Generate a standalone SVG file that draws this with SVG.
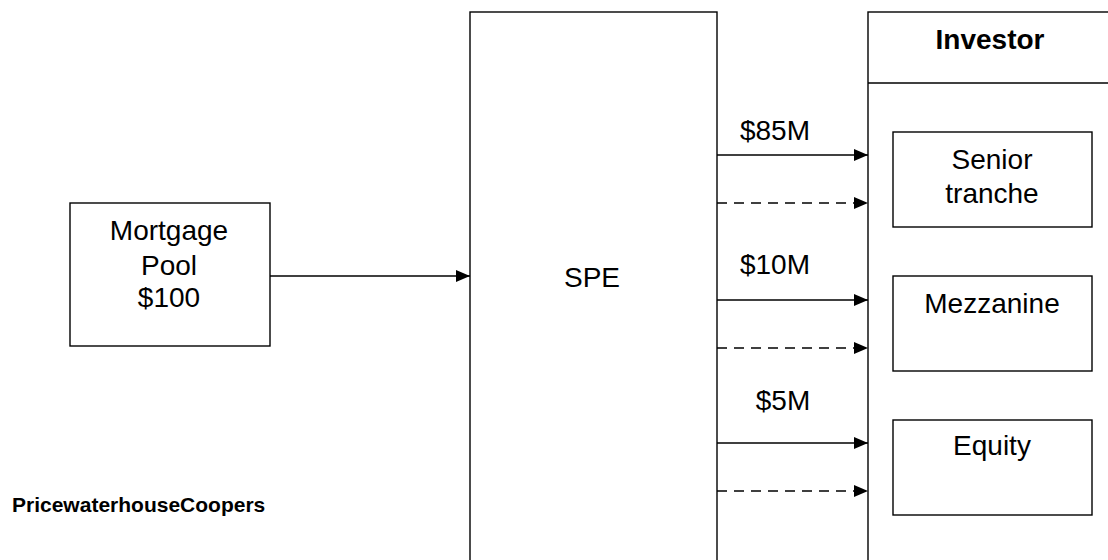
<svg xmlns="http://www.w3.org/2000/svg" width="1108" height="560" viewBox="0 0 1108 560">
  <style>
    .box { fill: #ffffff; stroke: #000000; stroke-width: 1.4; }
    .lbl { font-family: "Liberation Sans", Arial, sans-serif; font-size: 28px; fill: #000000; text-anchor: middle; }
    .bold { font-weight: bold; }
    .flow { stroke: #000000; stroke-width: 1.4; fill: none; marker-end: url(#arrow); }
    .dash { stroke-dasharray: 10 7; }
  </style>
  <defs>
    <marker id="arrow" viewBox="0 0 14 12" refX="14" refY="6" markerWidth="14" markerHeight="12" markerUnits="userSpaceOnUse" orient="auto">
      <path d="M0,0 L14,6 L0,12 Z" fill="#000000"/>
    </marker>
  </defs>
  <rect width="1108" height="560" fill="#ffffff"/>

  <g id="mortgage-pool">
    <rect class="box" x="70" y="203" width="200" height="143"/>
    <text class="lbl" x="169" y="240">Mortgage</text>
    <text class="lbl" x="169" y="275">Pool</text>
    <text class="lbl" x="169" y="307">$100</text>
  </g>

  <g id="spe">
    <rect class="box" x="470" y="12" width="247" height="560"/>
    <text class="lbl" x="592" y="287">SPE</text>
  </g>

  <g id="investor">
    <rect class="box" x="868" y="12" width="260" height="560"/>
    <line x1="868" y1="83" x2="1108" y2="83" stroke="#000" stroke-width="1.4"/>
    <text class="lbl bold" x="990" y="49">Investor</text>
  </g>

  <g id="senior-tranche">
    <rect class="box" x="893" y="132" width="199" height="95"/>
    <text class="lbl" x="992" y="169">Senior</text>
    <text class="lbl" x="992" y="203">tranche</text>
  </g>

  <g id="mezzanine">
    <rect class="box" x="893" y="276" width="199" height="95"/>
    <text class="lbl" x="992" y="313">Mezzanine</text>
  </g>

  <g id="equity">
    <rect class="box" x="893" y="420" width="199" height="95"/>
    <text class="lbl" x="992" y="455">Equity</text>
  </g>

  <g id="connectors">
    <line class="flow" x1="270" y1="276" x2="470" y2="276"/>
    <line class="flow" x1="717" y1="155" x2="868" y2="155"/>
    <line class="flow dash" x1="717" y1="203" x2="868" y2="203"/>
    <line class="flow" x1="717" y1="300" x2="868" y2="300"/>
    <line class="flow dash" x1="717" y1="348" x2="868" y2="348"/>
    <line class="flow" x1="717" y1="443" x2="868" y2="443"/>
    <line class="flow dash" x1="717" y1="491" x2="868" y2="491"/>
    <text class="lbl" x="775" y="140">$85M</text>
    <text class="lbl" x="775" y="274">$10M</text>
    <text class="lbl" x="783" y="410">$5M</text>
  </g>

  <text x="12" y="512" font-family="Liberation Sans, Arial, sans-serif" font-size="21" font-weight="bold" fill="#000">PricewaterhouseCoopers</text>
</svg>
